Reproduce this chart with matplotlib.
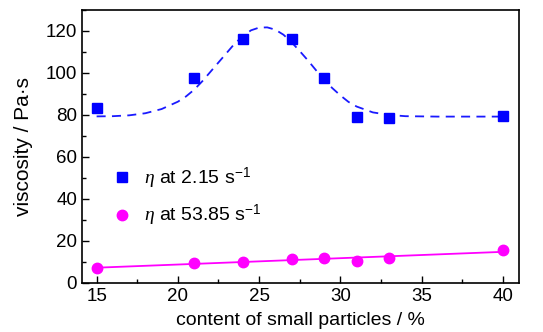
import numpy as np
import matplotlib
matplotlib.use('Agg')
import matplotlib.pyplot as plt
from matplotlib.ticker import MultipleLocator

plt.rcParams['font.family'] = ['Liberation Sans Narrow', 'Liberation Sans', 'DejaVu Sans']
plt.rcParams['mathtext.fontset'] = 'custom'
plt.rcParams['mathtext.it'] = 'Liberation Serif:italic'
plt.rcParams['mathtext.rm'] = 'Liberation Sans'

# measured points
content = [15, 21, 24, 27, 29, 31, 33, 40]
eta_low = [83.5, 97.5, 116, 116, 97.5, 79, 78.5, 79.5]    # 2.15 1/s
eta_high = [7, 9.5, 10, 11.5, 12, 10.5, 12, 15.5]        # 53.85 1/s

# dashed fit curve
fit_x = [15, 16, 17, 18, 19, 20, 20.5, 21, 21.5, 22, 22.5, 23, 23.5, 24, 24.5,
         25, 25.5, 26, 26.5, 27, 27.5, 28, 28.5, 29, 29.5, 30, 30.5, 31, 32,
         33, 34, 36, 40]
fit_y = [79.3, 79.4, 79.8, 80.8, 82.8, 86.3, 88.8, 92, 96, 100.5, 105, 109.5,
         114, 117.5, 120.3, 121.6, 121.7, 120.6, 118.2, 114.6, 110.4, 106,
         101.3, 96.8, 92.8, 89.3, 86.2, 84, 81.2, 80, 79.4, 79.2, 79.2]

fig = plt.figure(figsize=(5.43, 3.32), dpi=100)
ax = fig.add_axes([0.151, 0.148, 0.805, 0.822])

ax.plot(fit_x, fit_y, '--', color='#1a1aff', lw=1.3, dashes=(5, 3.5))
p = np.polyfit(content, eta_high, 1)
xl = np.array([15, 40])
ax.plot(xl, np.polyval(p, xl), '-', color='#ff00ff', lw=1.3)

ax.plot(content, eta_low, 's', color='#0000ff', ms=6.5, ls='none',
        label=r'$\eta$ at 2.15 s$^{-1}$')
ax.plot(content, eta_high, 'o', color='#ff00ff', ms=7.5, ls='none',
        label=r'$\eta$ at 53.85 s$^{-1}$')

ax.set_xlim(14.1, 41)
ax.set_ylim(0, 130)
ax.xaxis.set_major_locator(MultipleLocator(5))
ax.xaxis.set_minor_locator(MultipleLocator(2.5))
ax.yaxis.set_major_locator(MultipleLocator(20))
ax.yaxis.set_minor_locator(MultipleLocator(10))
ax.tick_params(which='both', direction='in', labelsize=13.5)
ax.tick_params(which='major', length=5, width=1)
ax.tick_params(which='minor', length=3, width=1)
for s in ax.spines.values():
    s.set_linewidth(1.2)

ax.set_xlabel('content of small particles / %', fontsize=14, labelpad=5)
ax.set_ylabel('viscosity / Pa\u00b7s', fontsize=15, labelpad=9)

ax.legend(loc='center left', bbox_to_anchor=(0.03, 0.315), frameon=False,
          fontsize=14, handlelength=1.0, handletextpad=0.6, labelspacing=0.65)

fig.savefig('out.png', dpi=100)
